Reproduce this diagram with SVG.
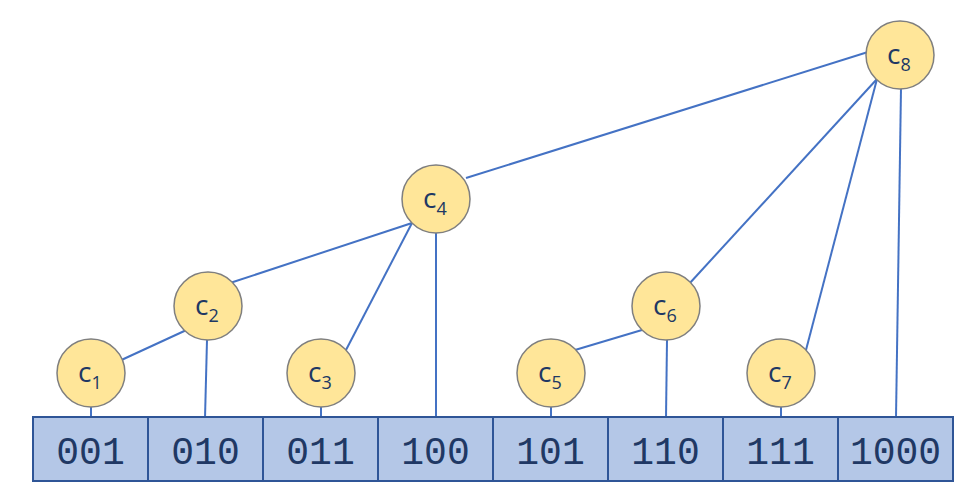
<svg xmlns="http://www.w3.org/2000/svg" width="976" height="485" viewBox="0 0 976 485">
<style>
.edge{stroke:#4472C4;stroke-width:2;fill:none}
.node circle{fill:#FFE699;stroke:#7F7F7F;stroke-width:1.5}
.lbl{font-family:"Open Sans","Liberation Sans",sans-serif;font-size:28px;fill:#203864}
.sub{font-size:18px}
.cell rect{fill:#B4C7E7;stroke:#2F5597;stroke-width:2}
.cell text{font-family:"Liberation Mono","DejaVu Sans Mono",monospace;font-size:38px;fill:#203864;text-anchor:middle}
</style>
<rect width="976" height="485" fill="#fff"/>
<g id="connectors">
<line class="edge" x1="91" y1="374" x2="193" y2="327"/>
<line class="edge" x1="91" y1="407" x2="91" y2="418"/>
<line class="edge" x1="207" y1="340" x2="205" y2="418"/>
<line class="edge" x1="230" y1="283" x2="412" y2="223"/>
<line class="edge" x1="346" y1="350" x2="412" y2="223"/>
<line class="edge" x1="321" y1="407" x2="321" y2="418"/>
<line class="edge" x1="436" y1="230" x2="436" y2="418"/>
<line class="edge" x1="466" y1="178" x2="868" y2="52"/>
<line class="edge" x1="877" y1="79" x2="689" y2="284"/>
<line class="edge" x1="877" y1="79" x2="806" y2="350"/>
<line class="edge" x1="901" y1="88" x2="896" y2="418"/>
<line class="edge" x1="575" y1="350" x2="642" y2="330"/>
<line class="edge" x1="551" y1="407" x2="551" y2="418"/>
<line class="edge" x1="667" y1="340" x2="666" y2="418"/>
<line class="edge" x1="781" y1="407" x2="781" y2="418"/>
</g>
<g id="c1" class="node"><circle cx="91" cy="373" r="34"/><text class="lbl" x="78" y="382">c<tspan class="sub" dy="7">1</tspan></text></g>
<g id="c2" class="node"><circle cx="208" cy="306" r="34"/><text class="lbl" x="195" y="315">c<tspan class="sub" dy="7">2</tspan></text></g>
<g id="c3" class="node"><circle cx="321" cy="373" r="34"/><text class="lbl" x="308" y="382">c<tspan class="sub" dy="7">3</tspan></text></g>
<g id="c4" class="node"><circle cx="436" cy="199" r="34"/><text class="lbl" x="423" y="208">c<tspan class="sub" dy="7">4</tspan></text></g>
<g id="c5" class="node"><circle cx="551" cy="373" r="34"/><text class="lbl" x="538" y="382">c<tspan class="sub" dy="7">5</tspan></text></g>
<g id="c6" class="node"><circle cx="666" cy="306" r="34"/><text class="lbl" x="653" y="315">c<tspan class="sub" dy="7">6</tspan></text></g>
<g id="c7" class="node"><circle cx="781" cy="373" r="34"/><text class="lbl" x="768" y="382">c<tspan class="sub" dy="7">7</tspan></text></g>
<g id="c8" class="node"><circle cx="900" cy="55" r="34"/><text class="lbl" x="887" y="64">c<tspan class="sub" dy="7">8</tspan></text></g>
<g id="cells" class="cell">
<rect x="33" y="417" width="115" height="64"/><text x="90.5" y="464">001</text>
<rect x="148" y="417" width="115" height="64"/><text x="205.5" y="464">010</text>
<rect x="263" y="417" width="115" height="64"/><text x="320.5" y="464">011</text>
<rect x="378" y="417" width="115" height="64"/><text x="435.5" y="464">100</text>
<rect x="493" y="417" width="115" height="64"/><text x="550.5" y="464">101</text>
<rect x="608" y="417" width="115" height="64"/><text x="665.5" y="464">110</text>
<rect x="723" y="417" width="115" height="64"/><text x="780.5" y="464">111</text>
<rect x="838" y="417" width="115" height="64"/><text x="895.5" y="464">1000</text>
</g>
</svg>
